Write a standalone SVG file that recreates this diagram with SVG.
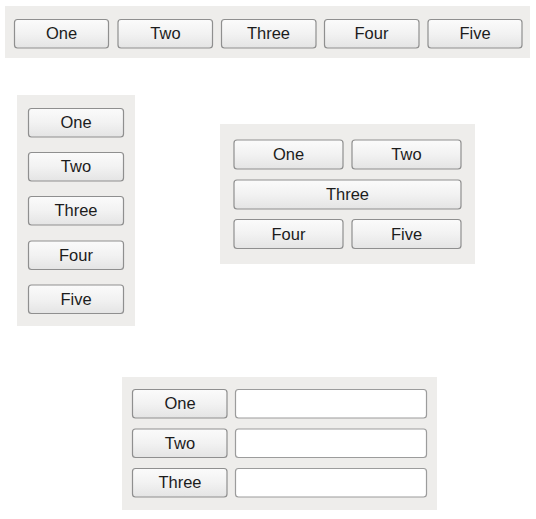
<svg xmlns="http://www.w3.org/2000/svg" width="536" height="519" viewBox="0 0 536 519">
<defs>
<linearGradient id="btnGrad" x1="0" y1="0" x2="0" y2="1">
<stop offset="0" stop-color="#fbfbfb"/>
<stop offset="0.5" stop-color="#f2f2f2"/>
<stop offset="1" stop-color="#e4e4e4"/>
</linearGradient>
</defs>
<style>
.panel{fill:#eeedeb}
.btn rect{fill:url(#btnGrad);stroke:#8f8f8f;stroke-width:1.2}
.btn text{font-family:"Liberation Sans",Arial,sans-serif;font-size:16.5px;fill:#1c1c1c;text-anchor:middle}
.field{fill:#ffffff;stroke:#9c9c9c;stroke-width:1.2}
</style>
<rect width="536" height="519" fill="#ffffff"/>

<g id="panel-horizontal">
<rect class="panel" x="5" y="6" width="525" height="52"/>
<g id="h-one" class="btn"><rect x="14.5" y="19.5" width="94" height="28.5" rx="3"/><text x="61.5" y="39">One</text></g>
<g id="h-two" class="btn"><rect x="118" y="19.5" width="94.5" height="28.5" rx="3"/><text x="165.5" y="39">Two</text></g>
<g id="h-three" class="btn"><rect x="221.5" y="19.5" width="94.5" height="28.5" rx="3"/><text x="268.5" y="39">Three</text></g>
<g id="h-four" class="btn"><rect x="324.5" y="19.5" width="94.5" height="28.5" rx="3"/><text x="371.5" y="39">Four</text></g>
<g id="h-five" class="btn"><rect x="428" y="19.5" width="94" height="28.5" rx="3"/><text x="475" y="39">Five</text></g>
</g>

<g id="panel-vertical">
<rect class="panel" x="17" y="95" width="118" height="231"/>
<g id="v-one" class="btn"><rect x="28.5" y="108.5" width="95" height="28.5" rx="3"/><text x="76" y="128">One</text></g>
<g id="v-two" class="btn"><rect x="28.5" y="152.5" width="95" height="28.5" rx="3"/><text x="76" y="172">Two</text></g>
<g id="v-three" class="btn"><rect x="28.5" y="196.5" width="95" height="28.5" rx="3"/><text x="76" y="216">Three</text></g>
<g id="v-four" class="btn"><rect x="28.5" y="241" width="95" height="28.5" rx="3"/><text x="76" y="260.5">Four</text></g>
<g id="v-five" class="btn"><rect x="28.5" y="285" width="95" height="28.5" rx="3"/><text x="76" y="304.5">Five</text></g>
</g>

<g id="panel-grid">
<rect class="panel" x="220" y="124" width="255" height="140"/>
<g id="g-one" class="btn"><rect x="234" y="140" width="109" height="29" rx="3"/><text x="288.5" y="160">One</text></g>
<g id="g-two" class="btn"><rect x="352" y="140" width="109" height="29" rx="3"/><text x="406.5" y="160">Two</text></g>
<g id="g-three" class="btn"><rect x="234" y="180" width="227" height="29" rx="3"/><text x="347.5" y="200">Three</text></g>
<g id="g-four" class="btn"><rect x="234" y="219.5" width="109" height="29" rx="3"/><text x="288.5" y="239.5">Four</text></g>
<g id="g-five" class="btn"><rect x="352" y="219.5" width="109" height="29" rx="3"/><text x="406.5" y="239.5">Five</text></g>
</g>

<g id="panel-form">
<rect class="panel" x="122" y="377" width="315" height="133"/>
<g id="f-one" class="btn"><rect x="132.5" y="389.5" width="94.5" height="28.5" rx="3"/><text x="180" y="409">One</text></g>
<rect id="f-field-one" class="field" x="235.5" y="389.5" width="191" height="28.5" rx="3"/>
<g id="f-two" class="btn"><rect x="132.5" y="429" width="94.5" height="28.5" rx="3"/><text x="180" y="448.5">Two</text></g>
<rect id="f-field-two" class="field" x="235.5" y="429" width="191" height="28.5" rx="3"/>
<g id="f-three" class="btn"><rect x="132.5" y="468.5" width="94.5" height="28.5" rx="3"/><text x="180" y="488">Three</text></g>
<rect id="f-field-three" class="field" x="235.5" y="468.5" width="191" height="28.5" rx="3"/>
</g>

<g id="connectors"/>
</svg>
